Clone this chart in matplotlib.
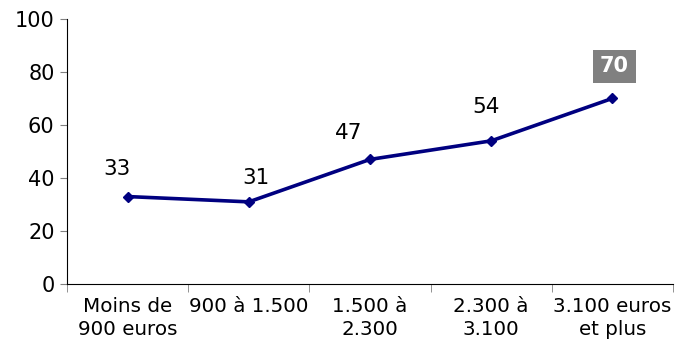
import matplotlib.pyplot as plt
import numpy as np

categories = ["Moins de\n900 euros", "900 à 1.500", "1.500 à\n2.300", "2.300 à\n3.100", "3.100 euros\net plus"]
values = [33, 31, 47, 54, 70]

# label offsets in pixels (dx, dy) from each point
label_offsets = [(-11, 28), (7, 24), (-21, 26), (-5, 34), (2, 32)]

fig = plt.figure(figsize=(6.77, 3.49), dpi=100)
ax = fig.add_axes([0.099, 0.186, 0.895, 0.76])

x = np.arange(len(categories))
ax.plot(x, values, color="#000080", linewidth=2.6, marker="D", markersize=5)

for i, v in enumerate(values):
    dx, dy = label_offsets[i]
    if i == len(values) - 1:
        ax.annotate(str(v), (x[i], v), xytext=(dx, dy), textcoords="offset pixels",
                    ha="center", va="center", fontsize=15, fontweight="bold", color="white",
                    bbox=dict(boxstyle="square,pad=0.32", fc="#808080", ec="none"))
    else:
        ax.annotate(str(v), (x[i], v), xytext=(dx, dy), textcoords="offset pixels",
                    ha="center", va="center", fontsize=15.5, color="black")

ax.set_xlim(-0.5, len(categories) - 0.5)
ax.set_ylim(0, 100)
ax.set_yticks([0, 20, 40, 60, 80, 100])
ax.tick_params(axis="y", labelsize=15, length=5, color="#808080", pad=4)

ax.set_xticks(x)
ax.set_xticklabels(categories, fontsize=14.3, linespacing=1.3)
ax.set_xticks(np.arange(len(categories) + 1) - 0.5, minor=True)
ax.tick_params(axis="x", which="major", length=0, pad=9)
ax.tick_params(axis="x", which="minor", length=6, color="#808080")

ax.spines["top"].set_visible(False)
ax.spines["right"].set_visible(False)
ax.spines["left"].set_color("black")
ax.spines["bottom"].set_color("black")

fig.savefig("out.png", dpi=100)
